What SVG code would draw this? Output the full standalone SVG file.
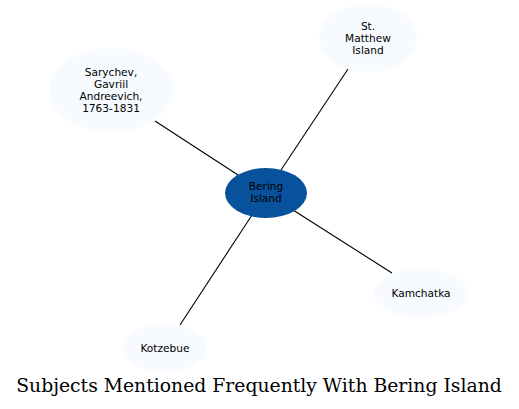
<svg xmlns="http://www.w3.org/2000/svg" width="519" height="409" viewBox="0 0 519 409">
<style>
.n{fill:#f7fbff;stroke:none}
.c{fill:#08519c;stroke:none}
.t{font-family:"DejaVu Sans",sans-serif;font-size:10.6px;fill:#000;text-anchor:middle}
.e{stroke:#000;stroke-width:1.1;fill:none}
.title{font-family:"DejaVu Serif",serif;font-size:18.8px;fill:#000;text-anchor:middle}
</style>
<rect width="519" height="409" fill="#fff"/>
<g id="edges">
<line class="e" x1="238" y1="175" x2="155" y2="121"/>
<line class="e" x1="281" y1="170" x2="348" y2="69"/>
<line class="e" x1="293" y1="210" x2="392" y2="273"/>
<line class="e" x1="252" y1="215" x2="180" y2="325"/>
</g>
<g id="sarychev">
<ellipse class="n" cx="111" cy="90" rx="62" ry="42"/>
<text class="t" x="111" y="76">Sarychev,</text>
<text class="t" x="111" y="88">Gavriil</text>
<text class="t" x="111" y="100">Andreevich,</text>
<text class="t" x="111" y="112">1763-1831</text>
</g>
<g id="stmatthew">
<ellipse class="n" cx="368" cy="38" rx="49" ry="34"/>
<text class="t" x="368" y="30">St.</text>
<text class="t" x="368" y="42">Matthew</text>
<text class="t" x="368" y="54">Island</text>
</g>
<g id="bering">
<ellipse class="c" cx="266" cy="193" rx="41" ry="25"/>
<text class="t" x="266" y="190">Bering</text>
<text class="t" x="266" y="202">Island</text>
</g>
<g id="kamchatka">
<ellipse class="n" cx="421" cy="293" rx="47" ry="24"/>
<text class="t" x="421" y="297">Kamchatka</text>
</g>
<g id="kotzebue">
<ellipse class="n" cx="165" cy="348" rx="42" ry="24"/>
<text class="t" x="165" y="352">Kotzebue</text>
</g>
<text class="title" x="259" y="392">Subjects Mentioned Frequently With Bering Island</text>
</svg>
